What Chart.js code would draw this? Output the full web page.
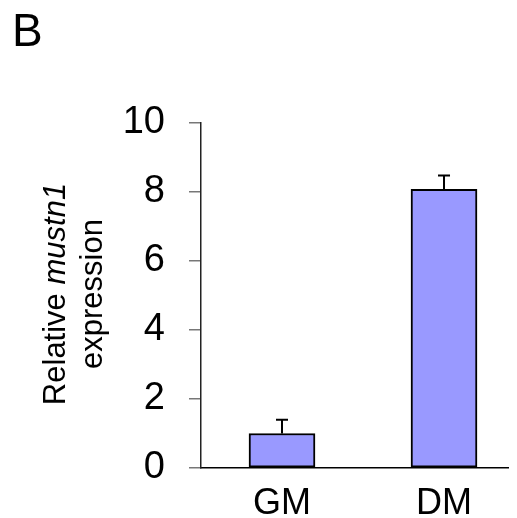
<!DOCTYPE html>
<html>
<head>
<meta charset="utf-8">
<script src="https://cdn.jsdelivr.net/npm/chart.js@4"></script>
<style>
  body { margin: 0; background: #fff; }
  #wrap { width: 517px; height: 518px; }
</style>
</head>
<body>
<div id="wrap"><canvas id="myChart" width="517" height="518"></canvas></div>
<script>
// data
const groups = ["GM", "DM"];
const expression = [1.0, 8.08];
const errors = [0.4, 0.4];
const yTicks = [0, 2, 4, 6, 8, 10];

const fontFamily = "'Liberation Sans', Arial, sans-serif";

// error bars (mean + SD, upper side only)
const errorBars = {
  id: "errorBars",
  afterDatasetsDraw(chart) {
    const ctx = chart.ctx;
    const meta = chart.getDatasetMeta(0);
    const y = chart.scales.y;
    ctx.save();
    ctx.strokeStyle = "#000";
    ctx.lineWidth = 2;
    meta.data.forEach(function(bar, i) {
      const top = y.getPixelForValue(expression[i] + errors[i]);
      ctx.beginPath();
      ctx.moveTo(bar.x, bar.y);
      ctx.lineTo(bar.x, top);
      ctx.moveTo(bar.x - 6, top);
      ctx.lineTo(bar.x + 6, top);
      ctx.stroke();
    });
    ctx.restore();
  }
};

// panel letter and y title (title has an italic gene name)
const labels = {
  id: "labels",
  afterDraw(chart) {
    const ctx = chart.ctx;
    ctx.save();
    ctx.fillStyle = "#000";
    ctx.font = "46px " + fontFamily;
    ctx.textBaseline = "alphabetic";
    ctx.textAlign = "left";
    ctx.fillText("B", 12, 46);

    const cy = 294;
    ctx.translate(0, cy);
    ctx.rotate(-Math.PI / 2);
    const normal = "31px " + fontFamily;
    const italic = "italic 31px " + fontFamily;
    ctx.font = normal;
    const w1 = ctx.measureText("Relative ").width;
    ctx.font = italic;
    const w2 = ctx.measureText("mustn1").width;
    let x0 = -(w1 + w2) / 2;
    ctx.font = normal;
    ctx.fillText("Relative ", x0, 65);
    ctx.font = italic;
    ctx.fillText("mustn1", x0 + w1, 65);
    ctx.font = normal;
    ctx.textAlign = "center";
    ctx.fillText("expression", 0, 102);
    ctx.restore();
  }
};

new Chart("myChart", {
  type: "bar",
  data: {
    labels: groups,
    datasets: [{
      data: expression,
      backgroundColor: "#9999ff",
      borderColor: "#000",
      borderWidth: 2,
      borderSkipped: false,
      barThickness: 66
    }]
  },
  options: {
    responsive: false,
    animation: false,
    layout: { padding: { top: 123, right: 9, left: 0, bottom: 0 } },
    plugins: { legend: { display: false }, tooltip: { enabled: false } },
    scales: {
      x: {
        grid: { drawOnChartArea: false, drawTicks: false },
        border: { color: "#000", width: 1.5 },
        ticks: { color: "#000", padding: 14, font: { family: fontFamily, size: 36 } },
        afterFit: function(s) { s.height = 50; },
        // spread the two groups wider than the default category layout
        afterBuildTicks: function(s) { s._startValue = -0.5; s._valueRange = 1.895; }
      },
      y: {
        min: 0,
        max: 10,
        afterBuildTicks: function(s) { s.ticks = yTicks.map(v => ({ value: v })); },
        grid: { drawOnChartArea: false, tickLength: 12, color: "#777", lineWidth: 1.5 },
        border: { color: "#222", width: 1.5 },
        ticks: { color: "#000", padding: 24, font: { family: fontFamily, size: 38 } },
        afterFit: function(s) { s.width = 201; }
      }
    }
  },
  plugins: [errorBars, labels]
});
</script>
</body>
</html>
